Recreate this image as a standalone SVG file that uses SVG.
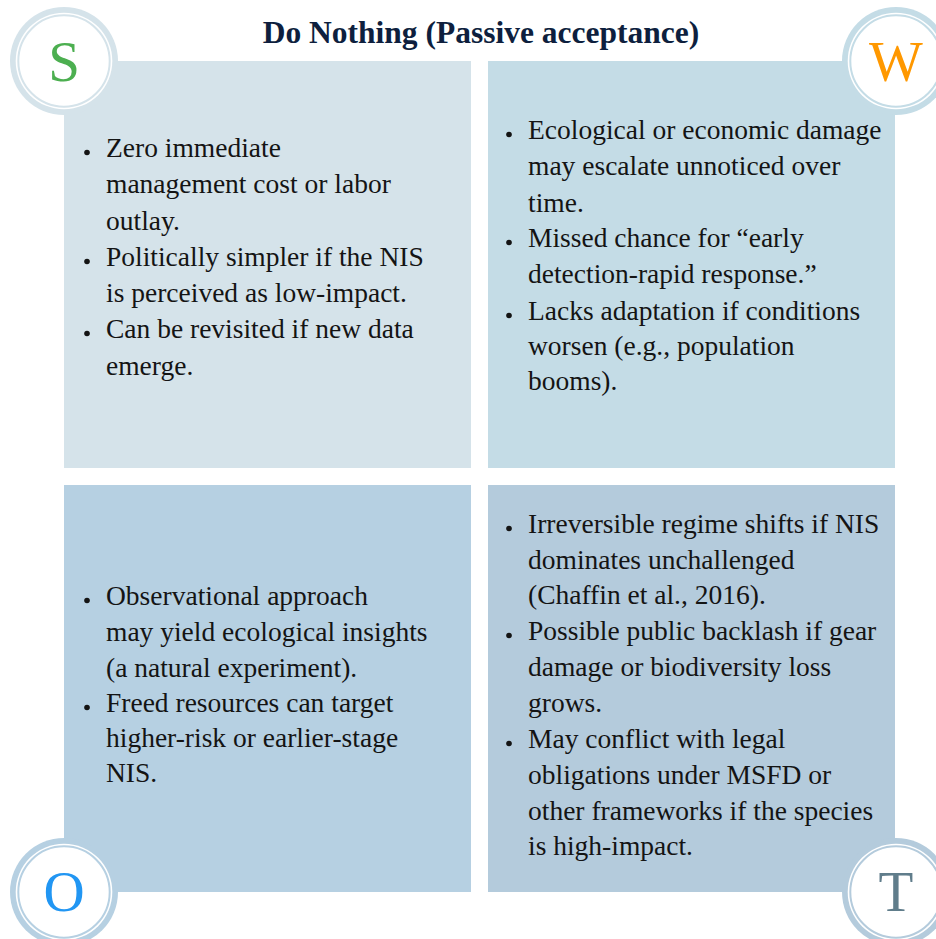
<svg xmlns="http://www.w3.org/2000/svg" width="936" height="939" viewBox="0 0 936 939">
<style>
.title{font-family:"Liberation Serif","Times New Roman",serif;font-weight:bold;font-size:31.5px;fill:#0e1f3e;text-anchor:middle}
.body{font-family:"Liberation Serif","Times New Roman",serif;font-size:27.5px;fill:#141414}
.bul{fill:#141414}
.letter{font-family:"Liberation Serif","Times New Roman",serif;font-size:57px;text-anchor:middle}
.inner{fill:#ffffff;stroke-width:2}
</style>
<rect width="936" height="939" fill="#ffffff"/>
<text class="title" x="481" y="43">Do Nothing (Passive acceptance)</text>

<g id="S">
<rect x="64" y="61" width="407" height="407" fill="#d5e3ea"/>
<g class="body">
<text x="106" y="157">Zero immediate</text>
<text x="106" y="193">management cost or labor</text>
<text x="106" y="230">outlay.</text>
<text x="106" y="266">Politically simpler if the NIS</text>
<text x="106" y="302">is perceived as low-impact.</text>
<text x="106" y="338">Can be revisited if new data</text>
<text x="106" y="375">emerge.</text>
</g>
<g class="bul">
<circle cx="87" cy="152.5" r="2.8"/>
<circle cx="87" cy="261.5" r="2.8"/>
<circle cx="87" cy="333.5" r="2.8"/>
</g>
</g>

<g id="W">
<rect x="488" y="61" width="407" height="407" fill="#c4dce6"/>
<g class="body">
<text x="528" y="139">Ecological or economic damage</text>
<text x="528" y="175">may escalate unnoticed over</text>
<text x="528" y="212">time.</text>
<text x="528" y="247">Missed chance for “early</text>
<text x="528" y="283">detection-rapid response.”</text>
<text x="528" y="320">Lacks adaptation if conditions</text>
<text x="528" y="355">worsen (e.g., population</text>
<text x="528" y="390">booms).</text>
</g>
<g class="bul">
<circle cx="509" cy="134.5" r="2.8"/>
<circle cx="509" cy="242.5" r="2.8"/>
<circle cx="509" cy="315.5" r="2.8"/>
</g>
</g>

<g id="O">
<rect x="64" y="485" width="407" height="407" fill="#b6d0e2"/>
<g class="body">
<text x="106" y="605">Observational approach</text>
<text x="106" y="641">may yield ecological insights</text>
<text x="106" y="677">(a natural experiment).</text>
<text x="106" y="712">Freed resources can target</text>
<text x="106" y="747">higher-risk or earlier-stage</text>
<text x="106" y="782">NIS.</text>
</g>
<g class="bul">
<circle cx="87" cy="600.5" r="2.8"/>
<circle cx="87" cy="707.5" r="2.8"/>
</g>
</g>

<g id="T">
<rect x="488" y="485" width="407" height="407" fill="#b4cbdc"/>
<g class="body">
<text x="528" y="533">Irreversible regime shifts if NIS</text>
<text x="528" y="569">dominates unchallenged</text>
<text x="528" y="604">(Chaffin et al., 2016).</text>
<text x="528" y="640">Possible public backlash if gear</text>
<text x="528" y="676">damage or biodiversity loss</text>
<text x="528" y="712">grows.</text>
<text x="528" y="748">May conflict with legal</text>
<text x="528" y="784">obligations under MSFD or</text>
<text x="528" y="820">other frameworks if the species</text>
<text x="528" y="855">is high-impact.</text>
</g>
<g class="bul">
<circle cx="509" cy="528.5" r="2.8"/>
<circle cx="509" cy="635.5" r="2.8"/>
<circle cx="509" cy="743.5" r="2.8"/>
</g>
</g>

<g id="S-badge">
<circle cx="64" cy="61" r="54" fill="#d5e3ea"/>
<circle cx="64" cy="61" r="48.3" fill="#ffffff"/>
<circle class="inner" cx="64" cy="61" r="45.7" stroke="#d5e3ea"/>
<text class="letter" x="64" y="81" fill="#4caf50">S</text>
</g>
<g id="W-badge">
<circle cx="896" cy="61" r="54" fill="#c4dce6"/>
<circle cx="896" cy="61" r="48.3" fill="#ffffff"/>
<circle class="inner" cx="896" cy="61" r="45.7" stroke="#c4dce6"/>
<text class="letter" x="896" y="81" fill="#ff9800">W</text>
</g>
<g id="O-badge">
<circle cx="64" cy="892" r="54" fill="#b6d0e2"/>
<circle cx="64" cy="892" r="48.3" fill="#ffffff"/>
<circle class="inner" cx="64" cy="892" r="45.7" stroke="#b6d0e2"/>
<text class="letter" x="64" y="911" fill="#2196f3">O</text>
</g>
<g id="T-badge">
<circle cx="896" cy="892" r="54" fill="#b4cbdc"/>
<circle cx="896" cy="892" r="48.3" fill="#ffffff"/>
<circle class="inner" cx="896" cy="892" r="45.7" stroke="#b4cbdc"/>
<text class="letter" x="896" y="911" fill="#607d8b">T</text>
</g>
<g id="connectors"/>
</svg>
